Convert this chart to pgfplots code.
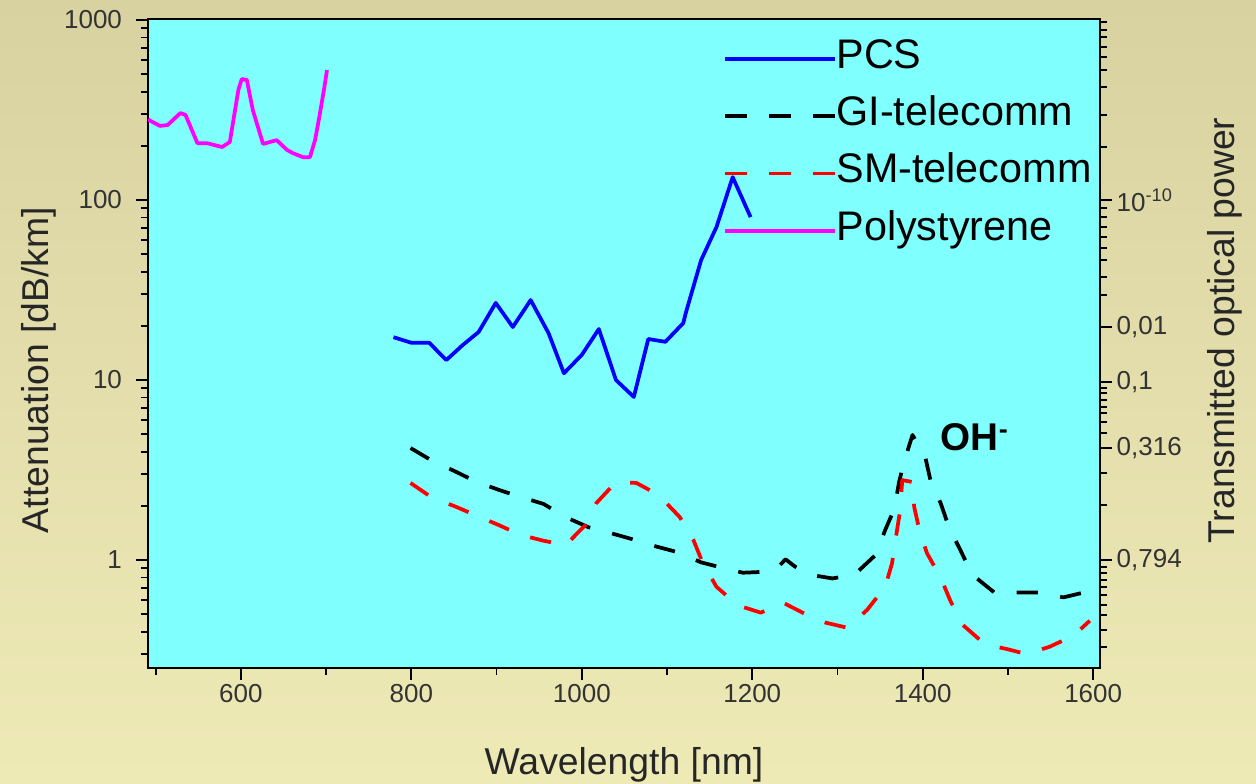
\documentclass[border=0pt]{standalone}
\usepackage{fontspec}
\setmainfont{Liberation Sans}
\usepackage{pgfplots}
\pgfplotsset{compat=1.18}
\definecolor{plotcyan}{HTML}{80FFFF}
\definecolor{bgtop}{HTML}{D8D2A0}
\definecolor{bgmid}{HTML}{F9F7C6}
\definecolor{bgbot}{HTML}{EEEAB6}
\definecolor{pblue}{HTML}{0000FF}
\definecolor{pred}{HTML}{FF0000}
\definecolor{pmag}{HTML}{FF00FF}
\begin{document}
\begin{tikzpicture}
\path[use as bounding box] (0,0) rectangle (942pt,587.25pt);
\shade[top color=bgtop, middle color=bgmid, bottom color=bgbot] (0,0) rectangle (942pt,587.25pt);
\begin{axis}[
  at={(111pt,86.25pt)}, anchor=south west,
  width=714pt, height=486.75pt, scale only axis,
  xmin=491, xmax=1608, ymode=log, ymin=0.2512, ymax=1013,
  axis background/.style={fill=plotcyan},
  axis line style={line width=1.8pt},
  tick style={line width=1.3pt, black},
  major tick length=9pt, minor tick length=5pt,
  tick align=outside, tick pos=left,
  /pgf/number format/assume math mode=true,
  /pgf/number format/1000 sep={},
  tick label style={font=\fontsize{19.5}{20}\selectfont, text=black!80},
  yticklabel style={xshift=-7pt},
  xtick={600,800,1000,1200,1400,1600},
  minor xtick={500,700,900,1100,1300,1500},
  ytick={1,10,100,1000}, yticklabels={1,10,100,1000},
  minor ytick={0.3,0.4,0.5,0.6,0.7,0.8,0.9,2,3,4,5,6,7,8,9,20,30,40,50,60,70,80,90,200,300,400,500,600,700,800,900},
  xlabel={Wavelength [nm]},
  ylabel={Attenuation [dB/km]},
  label style={font=\fontsize{28}{30}\selectfont, text=black!85},
  xlabel style={at={(axis description cs:0.5,-0.149)}, anchor=center},
  ylabel style={at={(axis description cs:-0.115,0.459)}, anchor=center},
  legend style={at={(axis description cs:0.600,0.97)}, anchor=north west, draw=none, fill=none,
    font=\fontsize{31}{33}\selectfont, row sep=17pt,
    nodes={inner sep=0pt, text height=20pt, text depth=6pt}},
  legend cell align=left,
  legend image code/.code={\draw[#1] (0pt,0pt) -- (82pt,0pt);},
  /tikz/every even column/.append style={column sep=4pt},
]
\addplot[pblue, line width=2.8pt, line join=round] coordinates {
(779,17.3)(800,16.1)(821,16.1)(841,12.9)(860,15.6)(879,18.5)(899,26.8)(919,19.7)(940,27.8)(961,18.2)(979,10.9)(1000,13.8)(1020,19.2)(1040,10)(1061,8.05)(1078,16.9)(1098,16.3)(1119,20.7)(1122,23.6)(1140,46.4)(1158,70.8)(1177,134)(1198,80.4)};
\addlegendentry{PCS}
\addplot[black, line width=2.8pt, line join=round, dash pattern=on 16pt off 17pt] coordinates {
(799,4.19)(823,3.59)(853,3.08)(877,2.71)(903,2.45)(928,2.24)(955,2.05)(981,1.73)(1008,1.52)(1034,1.41)(1058,1.31)(1084,1.20)(1111,1.11)(1140,0.97)(1163,0.91)(1189,0.85)(1215,0.86)(1230,0.91)(1239,1.01)(1250,0.92)(1267,0.83)(1294,0.79)(1320,0.83)(1345,1.07)(1356,1.47)(1367,1.94)(1372,2.68)(1378,3.50)(1388,4.95)(1403,3.73)(1409,2.78)(1421,2.07)(1431,1.51)(1444,1.14)(1458,0.83)(1484,0.66)(1511,0.66)(1537,0.66)(1565,0.62)(1589,0.66)(1597,0.66)};
\addlegendentry{GI-telecomm}
\addplot[pred, line width=2.8pt, line join=round, dash pattern=on 16pt off 17pt] coordinates {
(799,2.68)(823,2.24)(853,1.97)(877,1.76)(903,1.56)(928,1.38)(955,1.28)(981,1.21)(1004,1.56)(1017,2.07)(1040,2.71)(1064,2.68)(1090,2.30)(1115,1.73)(1131,1.29)(1142,0.96)(1158,0.71)(1183,0.56)(1210,0.51)(1236,0.58)(1259,0.51)(1285,0.45)(1312,0.42)(1335,0.53)(1356,0.71)(1364,0.96)(1368,1.29)(1373,1.82)(1376,2.78)(1388,2.71)(1390,1.97)(1396,1.47)(1405,1.09)(1421,0.80)(1432,0.60)(1446,0.44)(1473,0.34)(1499,0.32)(1522,0.30)(1549,0.33)(1577,0.38)(1596,0.46)};
\addlegendentry{SM-telecomm}
\addplot[pmag, line width=2.8pt, line join=round] coordinates {
(491,280)(505,258)(514,261)(529,304)(535,297)(549,207)(560,207)(578,197)(587,210)(597,408)(601,470)(607,464)(614,316)(626,205)(642,215)(654,190)(661,182)(673,173)(681,173)(687,215)(692,289)(698,424)(701,527)};
\addlegendentry{Polystyrene}
\node[font=\fontsize{29}{30}\selectfont\bfseries, text=black] at (axis cs:1461,4.8) {OH\textsuperscript{-}};
\end{axis}
\begin{axis}[
  at={(111pt,86.25pt)}, anchor=south west,
  width=714pt, height=486.75pt, scale only axis,
  xmin=0, xmax=1, ymin=19, ymax=668, y dir=reverse,
  hide x axis, axis y line*=right,
  axis line style={line width=1.8pt},
  tick style={line width=1.3pt, black},
  major tick length=9pt, minor tick length=5pt,
  tick align=outside,
  /pgf/number format/assume math mode=true,
  tick label style={font=\fontsize{19.5}{20}\selectfont, text=black!80},
  ytick={200,327,382,448,560},
  yticklabels={10\textsuperscript{-10},{0,01},{0,1},{0,316},{0,794}},
  minor ytick={22,30,37,47,57,70,87,115,147,208,217,227,237,248,260,277,295,388,393,400,407,413,422,433,473,505,567,573,580,587,595,605,615,630,647},
  ylabel={Transmitted optical power},
  ylabel style={font=\fontsize{28}{30}\selectfont, text=black!85, at={(axis description cs:1.131,0.52)}, anchor=center},
]
\addplot[draw=none] coordinates {(0.5,300)};
\end{axis}
\end{tikzpicture}
\end{document}
